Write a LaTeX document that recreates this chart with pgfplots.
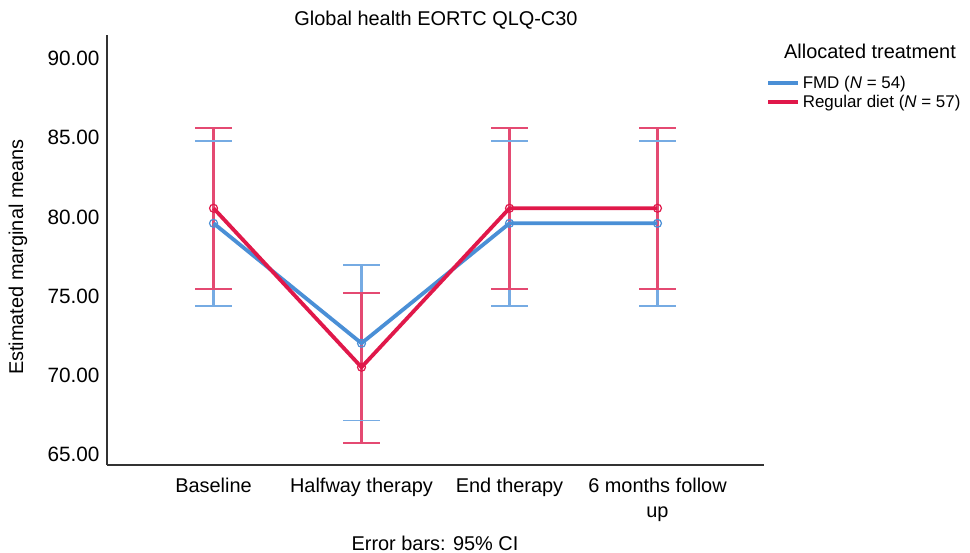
\documentclass[border=0pt]{standalone}
\usepackage{fontspec}
\setmainfont{Liberation Sans}
\usepackage{pgfplots}
\pgfplotsset{compat=1.18}

\definecolor{fmdblue}{HTML}{4A8FD6}
\definecolor{dietred}{HTML}{E0184A}
\definecolor{fmdci}{HTML}{76ABE3}
\definecolor{dietci}{HTML}{E44A72}

\newcommand{\bigfont}{\fontsize{20}{25}\selectfont}
\newcommand{\tickfont}{\fontsize{20.8}{25}\selectfont}
\newcommand{\legfont}{\fontsize{17}{20}\selectfont}

\begin{document}
\begin{tikzpicture}[x=1bp,y=1bp]
\useasboundingbox (0,0) rectangle (970,-553);
\begin{axis}[
    at={(107bp,-465bp)}, anchor=south west,
    scale only axis,
    width=657bp, height=430bp,
    xmin=-0.72, xmax=3.72,
    ymin=64.35, ymax=91.48,
    axis lines=left,
    axis line style={-, line width=1.3bp, color=black!80},
    major tick length=0pt,
    xtick={0,1,2,3},
    xticklabels={Baseline, Halfway therapy, End therapy, {6 months follow\\up}},
    xticklabel style={align=center, font=\bigfont, yshift=-10bp},
    ytick={65,70,75,80,85,90},
    yticklabel style={font=\tickfont, xshift=-4bp,
        /pgf/number format/.cd, fixed, fixed zerofill, precision=2,
        assume math mode=true},
    legend style={draw=none, fill=none, at={(1.003,0.9116)}, anchor=north west,
        font=\legfont, inner sep=0pt, nodes={inner sep=2.8bp},
        legend cell align=left},
    legend image code/.code={\draw[#1] (0bp,0bp) -- (27bp,0bp); \path (27bp,0bp) -- (30bp,0bp);},
    clip=false,
    unbounded coords=jump,
    ci/.style={line width=2.1bp, mark=-, mark size=18.3bp,
        mark options={solid, line width=1.6bp}, forget plot},
]

% 95% CI, FMD
\addplot[draw=fmdci, ci] coordinates {
    (0, 74.38) (0, 84.81) (0, nan)
    (1, 67.15) (1, 76.95) (1, nan)
    (2, 74.38) (2, 84.81) (2, nan)
    (3, 74.38) (3, 84.81)
};
% 95% CI, Regular diet
\addplot[draw=dietci, ci] coordinates {
    (0, 75.46) (0, 85.60) (0, nan)
    (1, 65.72) (1, 75.22) (1, nan)
    (2, 75.46) (2, 85.60) (2, nan)
    (3, 75.46) (3, 85.60)
};

% FMD (N = 54): means
\addplot[color=fmdblue, line width=3.8bp,
    mark=o, mark size=4bp, mark options={line width=1.2bp, fill=none},
] coordinates {
    (0, 79.60) (1, 72.03) (2, 79.60) (3, 79.60)
};
\addlegendentry{FMD (\textit{N} = 54)}

% Regular diet (N = 57): means
\addplot[color=dietred, line width=3.8bp,
    mark=o, mark size=4bp, mark options={line width=1.2bp, fill=none},
] coordinates {
    (0, 80.55) (1, 70.52) (2, 80.55) (3, 80.55)
};
\addlegendentry{Regular diet (\textit{N} = 57)}

\end{axis}

\node[font=\bigfont] at (436,-20) {Global health EORTC QLQ-C30};
\node[font=\bigfont, rotate=90] at (18,-257) {Estimated marginal means};
\node[font=\bigfont] at (435,-543) {Error bars: 95\% CI};
\node[font=\bigfont] at (870,-51) {Allocated treatment};
\end{tikzpicture}
\end{document}
